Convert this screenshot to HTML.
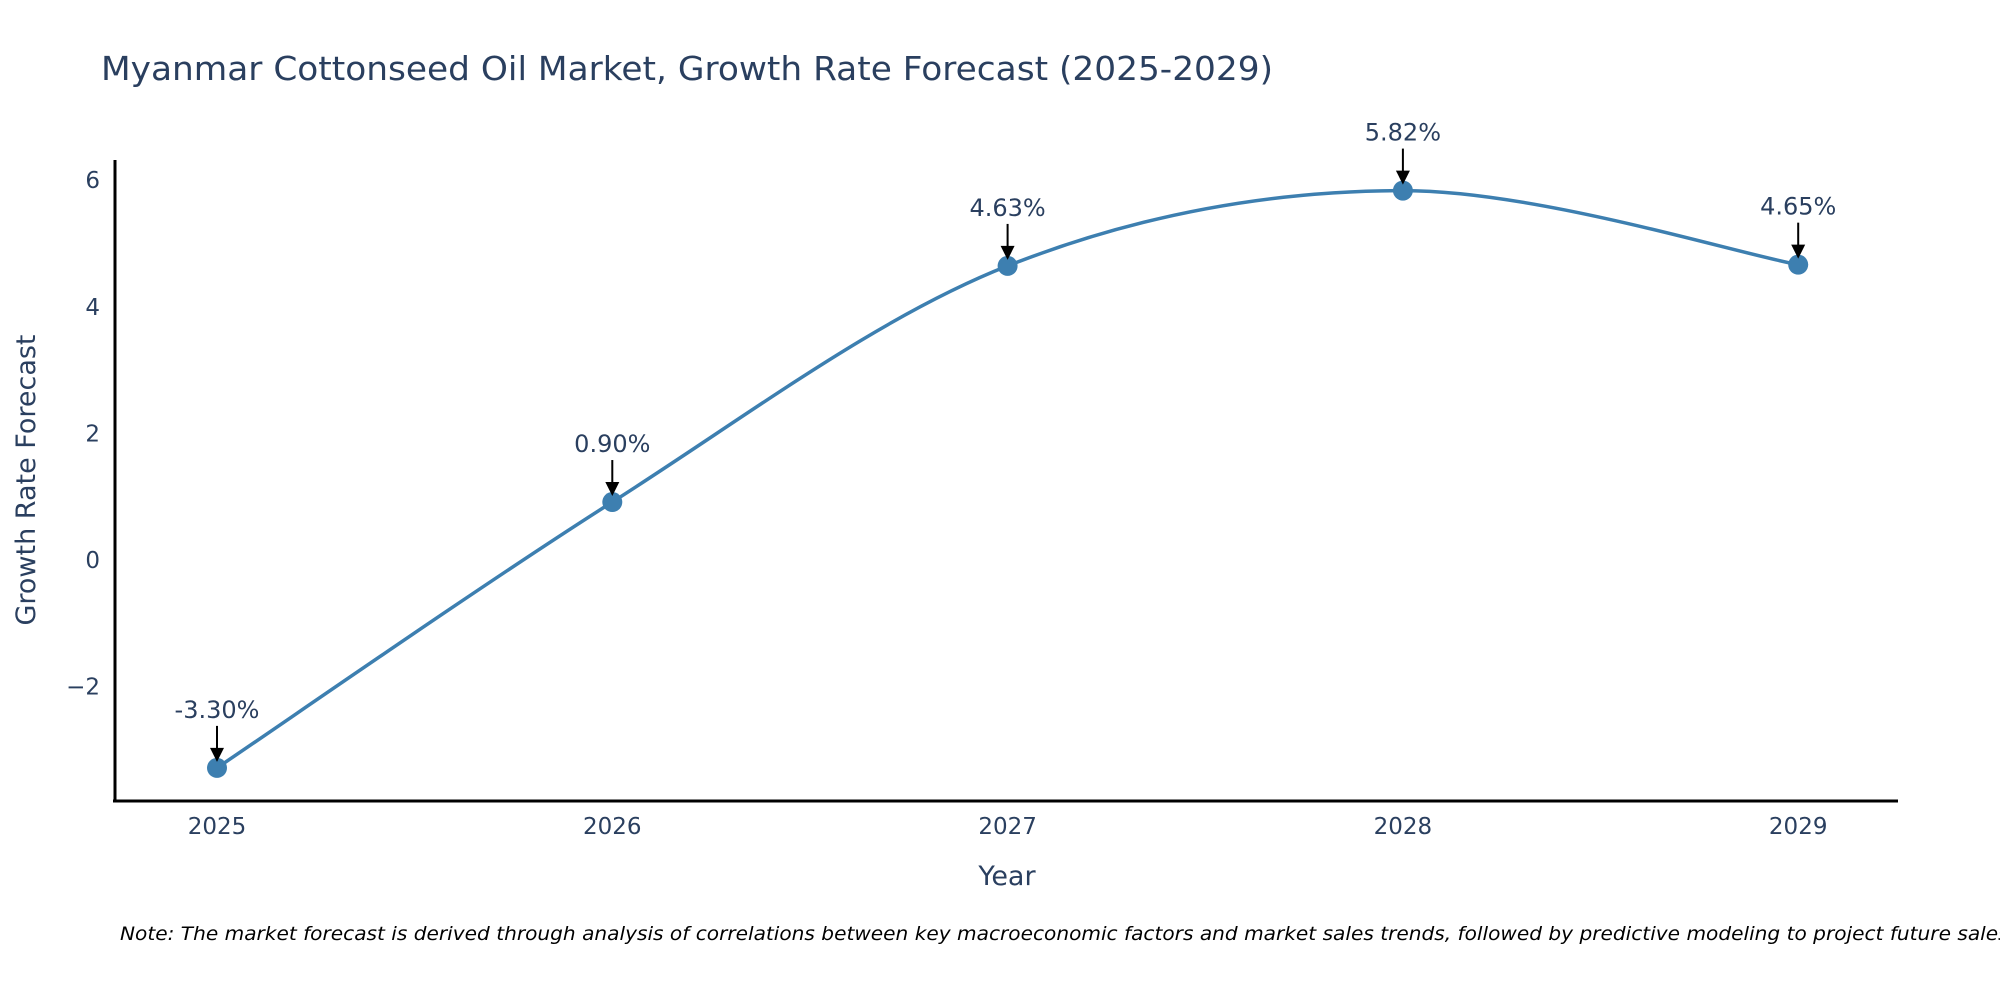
<!DOCTYPE html>
<html><head><meta charset="utf-8">
<style>
html,body{margin:0;padding:0;background:#fff;}
svg{display:block;font-family:"DejaVu Sans","Liberation Sans",sans-serif;}
</style></head>
<body>
<svg id="chart" width="2000" height="1000" viewBox="0 0 2000 1000" xmlns="http://www.w3.org/2000/svg">
<text x="101" y="80" font-size="33" fill="#2a3f5f" textLength="1172" lengthAdjust="spacingAndGlyphs">Myanmar Cottonseed Oil Market, Growth Rate Forecast (2025-2029)</text>
<g id="plot"></g>
<line x1="115" y1="160" x2="115" y2="802" stroke="#000" stroke-width="3"/>
<line x1="113" y1="801" x2="1898" y2="801" stroke="#000" stroke-width="3"/>
<text x="1007" y="885" font-size="27" fill="#2a3f5f" text-anchor="middle">Year</text>
<text transform="translate(35,480) rotate(-90)" font-size="27" fill="#2a3f5f" text-anchor="middle">Growth Rate Forecast</text>
<text x="120" y="940" font-size="19" font-style="italic" fill="#000" textLength="1895" lengthAdjust="spacingAndGlyphs">Note: The market forecast is derived through analysis of correlations between key macroeconomic factors and market sales trends, followed by predictive modeling to project future sales.</text>
</svg>
<script>
const years = ["2025","2026","2027","2028","2029"];
const growth = [-3.30, 0.90, 4.63, 5.82, 4.65];
const yTicks = [-2, 0, 2, 4, 6];
const yTickLabels = ["\u22122","0","2","4","6"];

const NS="http://www.w3.org/2000/svg";
const g=document.getElementById('plot');
function xs(i){return 217+i*395.3;}
function ys(v){return 559-v*63.3;}
function mk(tag,attrs){const e=document.createElementNS(NS,tag);for(const k in attrs)e.setAttribute(k,attrs[k]);g.appendChild(e);return e;}

yTicks.forEach((t,i)=>{
  const e=mk('text',{x:100,y:ys(t)+9,'font-size':23,fill:'#2a3f5f','text-anchor':'end'});
  
  
  e.textContent=yTickLabels[i];
});
years.forEach((yr,i)=>{
  const e=mk('text',{x:xs(i),y:834,'font-size':23,fill:'#2a3f5f','text-anchor':'middle'});
  
  
  e.textContent=yr;
});
const pts=growth.map((v,i)=>[xs(i),ys(v)]);
let d=`M${pts[0][0]},${pts[0][1]}`;
for(let i=0;i<pts.length-1;i++){
  const p0=pts[Math.max(0,i-1)],p1=pts[i],p2=pts[i+1],p3=pts[Math.min(pts.length-1,i+2)];
  const k=1/6;
  d+=` C${p1[0]+(p2[0]-p0[0])*k},${p1[1]+(p2[1]-p0[1])*k} ${p2[0]-(p3[0]-p1[0])*k},${p2[1]-(p3[1]-p1[1])*k} ${p2[0]},${p2[1]}`;
}
const line=mk('path',{d:d,fill:'none',stroke:'#3d7fb0','stroke-width':3.5});


growth.forEach((v,i)=>{
  const x=xs(i),y=ys(v);
  const c=mk('circle',{cx:x,cy:y,r:10,fill:'#3d7fb0'});
  
  
  const a=mk('line',{x1:x,y1:y-42,x2:x,y2:y-18,stroke:'#000','stroke-width':2});
  
  
  const h=mk('path',{d:`M${x-7},${y-20} L${x+7},${y-20} L${x},${y-6} Z`,fill:'#000'});
  
  
  const t=mk('text',{x:x,y:y-50,'font-size':24,fill:'#2a3f5f','text-anchor':'middle'});
  
  
  t.textContent=v.toFixed(2)+'%';
});
</script>
</body></html>
